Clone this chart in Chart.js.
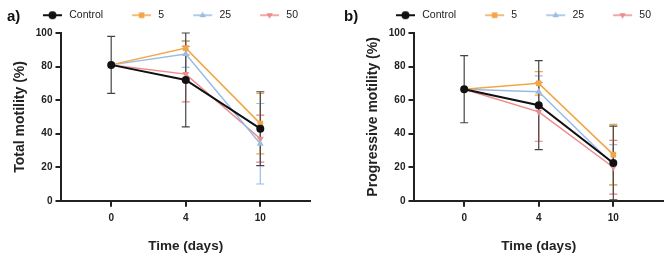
<!DOCTYPE html>
<html>
<head>
<meta charset="utf-8">
<script src="https://cdn.jsdelivr.net/npm/chart.js@4.4.1/dist/chart.umd.min.js"></script>
<style>
  body { margin: 0; width: 669px; height: 254px; overflow: hidden; position: relative; background: #fff; font-family: 'Liberation Sans', Arial, sans-serif; }
  .panel { position: absolute; top: 0; height: 254px; }
  .tag { position: absolute; top: 7px; font-weight: bold; font-size: 15px; color: #111; }
</style>
</head>
<body>
<div class="panel" style="left:0;width:342px"><canvas id="chartA"></canvas></div>
<div class="panel" style="left:353px;width:342px"><canvas id="chartB"></canvas></div>
<div class="tag" style="left:7px">a)</div>
<div class="tag" style="left:344px">b)</div>
<script>
const days = ['0', '4', '10'];
const groups = ['Control', '5', '25', '50'];

// total motility (%), mean and SD per day
const totalControl = [81, 72, 43];
const total5 = [81, 91, 46];
const total25 = [81, 87.5, 34];
const total50 = [81, 75.5, 37];
const totalControlSd = [17, 28, 22];
const total5Sd = [0, 4, 18];
const total25Sd = [0, 8, 24];
const total50Sd = [0, 16.5, 14];

// progressive motility (%)
const progControl = [66.5, 57, 22.5];
const prog5 = [66.5, 70, 27.5];
const prog25 = [66.5, 65, 21.5];
const prog50 = [66.5, 53, 20];
const progControlSd = [20, 26.5, 22];
const prog5Sd = [0, 7, 18];
const prog25Sd = [0, 9.5, 12];
const prog50Sd = [0, 17.5, 16];

const colors = ['#111111', '#F2A647', '#9BBBE3', '#EC8B8B'];
const barColors = ['#444444', '#F2A647', '#9BBBE3', '#E98080'];
const styles = ['circle', 'rect', 'triangle', 'triangle'];
const rotations = [0, 0, 0, 180];
const font = "'Liberation Sans', Arial, sans-serif";

function drawMarker(ctx, style, rot, x, y, r) {
  ctx.beginPath();
  if (style === 'circle') {
    ctx.arc(x, y, r, 0, Math.PI * 2);
  } else if (style === 'rect') {
    ctx.rect(x - r * 0.8, y - r * 0.8, r * 1.6, r * 1.6);
  } else {
    const s = rot ? -1 : 1;
    ctx.moveTo(x, y - s * r);
    ctx.lineTo(x + r * 0.9, y + s * r * 0.6);
    ctx.lineTo(x - r * 0.9, y + s * r * 0.6);
    ctx.closePath();
  }
  ctx.fill();
}

// legend icon: short line with the marker in the middle, blank space on the left
function legendIcon(i) {
  const c = document.createElement('canvas');
  c.width = 42; c.height = 12;
  const ctx = c.getContext('2d');
  ctx.strokeStyle = colors[i];
  ctx.fillStyle = colors[i];
  ctx.lineWidth = i === 0 ? 2 : 1.5;
  ctx.beginPath();
  ctx.moveTo(21, 6); ctx.lineTo(40, 6);
  ctx.stroke();
  drawMarker(ctx, styles[i], rotations[i], 30.5, 6, i === 0 ? 4 : 3.5);
  return c;
}
const icons = groups.map((g, i) => legendIcon(i));

// a little more room under the legend
const legendGap = {
  id: 'legendGap',
  beforeUpdate(chart) {
    const lg = chart.legend;
    if (!lg || lg._gapPatched) return;
    const fit = lg.fit;
    lg.fit = function () { fit.call(this); this.height += 2.5; };
    lg._gapPatched = true;
  }
};

const errorBars = {
  id: 'errorBars',
  beforeDatasetsDraw(chart) {
    const ctx = chart.ctx, xs = chart.scales.x, ys = chart.scales.y;
    const area = chart.chartArea;
    ctx.save();
    ctx.beginPath();
    ctx.rect(area.left, area.top - 10, area.right - area.left, area.bottom - area.top + 10);
    ctx.clip();
    for (let d = chart.data.datasets.length - 1; d >= 0; d--) {
      const ds = chart.data.datasets[d];
      ctx.strokeStyle = ds.barColor;
      ctx.lineWidth = 1.2;
      ds.data.forEach((pt, j) => {
        const sd = ds.sd[j];
        if (!sd) return;
        const px = xs.getPixelForValue(pt.x);
        const top = ys.getPixelForValue(pt.y + sd);
        const bot = ys.getPixelForValue(pt.y - sd);
        ctx.beginPath();
        ctx.moveTo(px, top); ctx.lineTo(px, bot);
        ctx.moveTo(px - 4, top); ctx.lineTo(px + 4, top);
        ctx.moveTo(px - 4, bot); ctx.lineTo(px + 4, bot);
        ctx.stroke();
      });
    }
    ctx.restore();
  }
};

function makeChart(id, yTitle, means, sds) {
  const datasets = groups.map((g, i) => ({
    label: g,
    data: means[i].map((v, j) => ({ x: j, y: v })),
    sd: sds[i],
    barColor: barColors[i],
    borderColor: colors[i],
    backgroundColor: colors[i],
    borderWidth: i === 0 ? 2 : 1.5,
    pointStyle: styles[i],
    rotation: rotations[i],
    pointRadius: 4,
    pointBorderWidth: 0,
    tension: 0
  }));
  return new Chart(document.getElementById(id), {
    type: 'line',
    data: { datasets: datasets },
    plugins: [legendGap, errorBars],
    options: {
      responsive: true,
      maintainAspectRatio: false,
      animation: false,
      layout: { padding: { left: 10, right: 32, top: 2, bottom: 0 } },
      plugins: {
        tooltip: { enabled: false },
        legend: {
          position: 'top',
          labels: {
            usePointStyle: true,
            pointStyleWidth: 42,
            padding: 8,
            color: '#222',
            font: { family: font, size: 10.5 },
            generateLabels: chart => chart.data.datasets.map((ds, i) => ({
              text: ds.label,
              pointStyle: icons[i],
              datasetIndex: i,
              hidden: false,
              lineWidth: 0,
              fillStyle: ds.borderColor,
              strokeStyle: ds.borderColor,
              fontColor: '#222'
            }))
          }
        }
      },
      scales: {
        x: {
          type: 'linear',
          min: -2 / 3,
          max: 8 / 3,
          afterBuildTicks: axis => { axis.ticks = days.map((d, i) => ({ value: i })); },
          ticks: {
            callback: v => days[v],
            color: '#222',
            padding: 5,
            font: { family: font, size: 10, weight: 'bold' }
          },
          grid: { display: true, drawOnChartArea: false, tickLength: 6, color: '#222', lineWidth: 2 },
          border: { display: true, color: '#222', width: 2 },
          title: {
            display: true,
            text: 'Time (days)',
            color: '#222',
            padding: { top: 9, bottom: 0 },
            font: { family: font, size: 13.5, weight: 'bold' }
          }
        },
        y: {
          min: 0,
          max: 100,
          ticks: {
            stepSize: 20,
            color: '#222',
            padding: 3,
            font: { family: font, size: 10, weight: 'bold' }
          },
          grid: { display: true, drawOnChartArea: false, tickLength: 6, color: '#222', lineWidth: 2 },
          border: { display: true, color: '#222', width: 2 },
          title: {
            display: true,
            text: yTitle,
            color: '#222',
            padding: { top: 2, bottom: 4 },
            font: { family: font, size: 14, weight: 'bold' }
          }
        }
      }
    }
  });
}

makeChart('chartA', 'Total motility (%)',
  [totalControl, total5, total25, total50],
  [totalControlSd, total5Sd, total25Sd, total50Sd]);
makeChart('chartB', 'Progressive motility (%)',
  [progControl, prog5, prog25, prog50],
  [progControlSd, prog5Sd, prog25Sd, prog50Sd]);
</script>
</body>
</html>
